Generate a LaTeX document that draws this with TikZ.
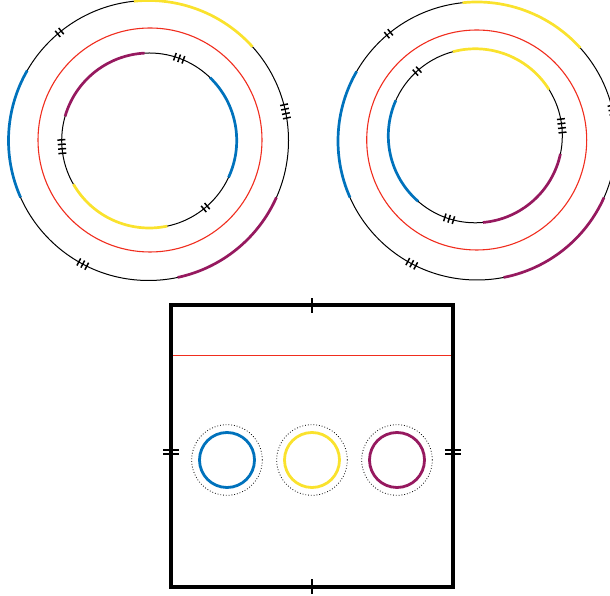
\documentclass[tikz,border=0pt]{standalone}
\definecolor{cblue}{RGB}{0,114,188}
\definecolor{cyellow}{RGB}{250,226,45}
\definecolor{cpurple}{RGB}{150,25,95}
\definecolor{cred}{RGB}{240,45,30}
% hash marks across a circle: centre, radius, angle, offsets
\newcommand\hatches[4]{%
  \begin{scope}[shift={(#1)},rotate=#3]
    \foreach \s in {#4} \draw[hatch] (#2-4,\s) -- (#2+4,\s);
  \end{scope}}
\begin{document}
\begin{tikzpicture}[x=1pt,y=1pt,
    loop/.style={line width=1pt,black},
    band/.style={line width=2.7pt},
    cut/.style={line width=1.1pt,cred},
    hatch/.style={line width=1.5pt,black},
    frame/.style={line width=3.2pt,black},
    hole/.style={line width=2.8pt},
    halo/.style={line width=0.8pt,dotted}]
  \useasboundingbox (0,0) rectangle (610,596);
  \clip (0,0) rectangle (610,596);
  % centres
  \coordinate (LO) at (148.5,455.5);
  \coordinate (LR) at (150,456);
  \coordinate (LI) at (149.2,455.5);
  \coordinate (RO) at (477,455);
  \coordinate (RR) at (476.7,456);
  \coordinate (RI) at (475.3,460.2);
  % left rings
  \draw[loop] (LO) circle[radius=140];
  \draw[cut] (LR) circle[radius=112];
  \draw[loop] (LI) circle[radius=87.5];
  \draw[band,cyellow] (LO) ++(42:140) arc[start angle=42,end angle=96,radius=140];
  \draw[band,cblue] (LO) ++(150:140) arc[start angle=150,end angle=204,radius=140];
  \draw[band,cpurple] (LO) ++(-78:140) arc[start angle=-78,end angle=-24,radius=140];
  \draw[band,cpurple] (LI) ++(93:87.5) arc[start angle=93,end angle=164,radius=87.5];
  \draw[band,cblue] (LI) ++(-25:87.5) arc[start angle=-25,end angle=46,radius=87.5];
  \draw[band,cyellow] (LI) ++(210:87.5) arc[start angle=210,end angle=282,radius=87.5];
  \hatches{LO}{140}{129.5}{-2.25,2.25}
  \hatches{LO}{140}{12}{-6.75,-2.25,2.25,6.75}
  \hatches{LO}{140}{242}{-4.5,0,4.5}
  \hatches{LI}{87.5}{70}{-4.5,0,4.5}
  \hatches{LI}{87.5}{184}{-6.75,-2.25,2.25,6.75}
  \hatches{LI}{87.5}{-50}{-2.25,2.25}
  % right rings
  \draw[loop] (RO) circle[radius=139];
  \draw[cut] (RR) circle[radius=110];
  \draw[loop] (RI) circle[radius=87];
  \draw[band,cyellow] (RO) ++(42:139) arc[start angle=42,end angle=96,radius=139];
  \draw[band,cblue] (RO) ++(150:139) arc[start angle=150,end angle=204,radius=139];
  \draw[band,cpurple] (RO) ++(-79:139) arc[start angle=-79,end angle=-24,radius=139];
  \draw[band,cyellow] (RI) ++(32:87) arc[start angle=32,end angle=105,radius=87];
  \draw[band,cblue] (RI) ++(156:87) arc[start angle=156,end angle=229,radius=87];
  \draw[band,cpurple] (RI) ++(-85:87) arc[start angle=-85,end angle=-12,radius=87];
  \hatches{RO}{139}{129.5}{-2.25,2.25}
  \hatches{RO}{139}{12}{-6.75,-2.25,2.25,6.75}
  \hatches{RO}{139}{242}{-4.5,0,4.5}
  \hatches{RI}{87}{132}{-2.25,2.25}
  \hatches{RI}{87}{6.6}{-6.75,-2.25,2.25,6.75}
  \hatches{RI}{87}{-107.5}{-4.5,0,4.5}
  % square with identified sides
  \coordinate (SW) at (171,9);
  \coordinate (NE) at (453,291);
  \coordinate (TL) at (171,240.5);
  \coordinate (TR) at (453,240.5);
  \draw[cut,line width=1.4pt] (TL) -- (TR);
  \draw[frame] (SW) rectangle (NE);
  \draw[hatch,line width=1.8pt] (312,283) -- (312,298);
  \draw[hatch,line width=1.8pt] (312,2) -- (312,17);
  \foreach \x in {171,453}
    \foreach \y in {142,146}
      \draw[hatch,line width=1.8pt] (\x-8,\y) -- (\x+8,\y);
  % holes
  \foreach \x/\c [count=\i] in {227/cblue,312/cyellow,397/cpurple} {
    \coordinate (H\i) at (\x,136);
    \draw[halo] (H\i) circle[radius=35.3];
    \draw[hole,\c] (H\i) circle[radius=27.5];
  }
\end{tikzpicture}
\end{document}
